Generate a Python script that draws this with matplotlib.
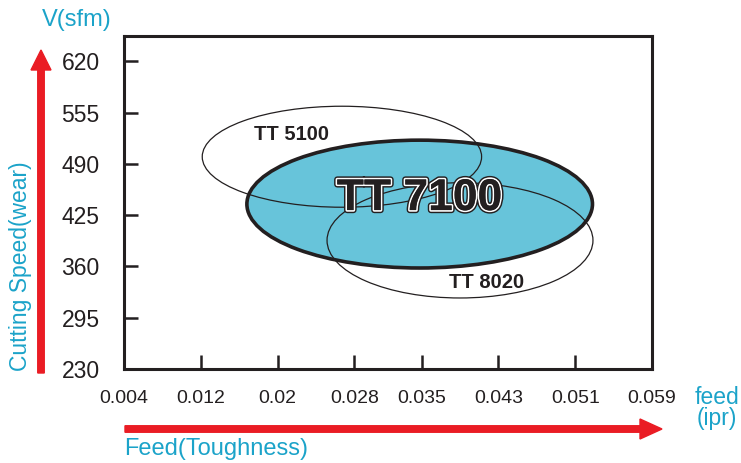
import matplotlib.pyplot as plt
import matplotlib.patheffects as pe
from matplotlib.patches import Ellipse, FancyArrow

# axis ticks
feed_ticks = [0.004, 0.012, 0.02, 0.028, 0.035, 0.043, 0.051, 0.059]
feed_labels = ['0.004', '0.012', '0.02', '0.028', '0.035', '0.043', '0.051', '0.059']
speed_ticks = [230, 295, 360, 425, 490, 555, 620]

# grade application areas (feed centre, speed centre, feed span, speed span)
grades = ['TT 5100', 'TT 7100', 'TT 8020']
feed_center = [0.0267, 0.0348, 0.0390]
speed_center = [499, 439, 393]
feed_span = [0.0291, 0.0360, 0.0277]
speed_span = [128, 162, 146]

CYAN_TXT = '#1ba3c9'
RED = '#ea1c24'
DARK = '#231f20'

plt.rcParams['font.family'] = ['Liberation Sans', 'DejaVu Sans']

fig = plt.figure(figsize=(7.41, 4.63), dpi=100)
ax = fig.add_axes([124 / 741, 94 / 463, 528 / 741, 333 / 463])
ax.set_xlim(0.004, 0.059)
ax.set_ylim(230, 652)

for s in ax.spines.values():
    s.set_linewidth(2.2)
    s.set_color(DARK)

ax.set_xticks(feed_ticks)
ax.set_xticklabels(feed_labels)
ax.set_yticks(speed_ticks)
ax.tick_params(direction='in', length=10, width=1.8, color=DARK, labelcolor=DARK)
ax.tick_params(axis='x', pad=15, labelsize=14)
ax.tick_params(axis='y', pad=17.5, labelsize=16.5)
ax.tick_params(top=False, right=False)

# TT 7100 filled area
i = 1
ax.add_patch(Ellipse((feed_center[i], speed_center[i]), feed_span[i], speed_span[i],
                     facecolor='#67c4da', edgecolor=DARK, linewidth=2.6, zorder=2))
for i in (0, 2):
    ax.add_patch(Ellipse((feed_center[i], speed_center[i]), feed_span[i], speed_span[i],
                         facecolor='none', edgecolor=DARK, linewidth=0.9, zorder=3))

ax.text(feed_center[1], speed_center[1] + 7, grades[1], ha='center', va='center',
        fontsize=32, fontweight='bold', color=DARK, zorder=5,
        path_effects=[pe.withStroke(linewidth=4.5, foreground=DARK),
                      pe.withStroke(linewidth=2.4, foreground='white'),
                      pe.Normal()])
ax.text(0.0214, 527, grades[0], ha='center', va='center', fontsize=14.5,
        fontweight='bold', color=DARK, zorder=5)
ax.text(0.0418, 339, grades[2], ha='center', va='center', fontsize=14.5,
        fontweight='bold', color=DARK, zorder=5)

# red direction arrows in figure pixels
W, H = 741, 463
fig.patches.append(FancyArrow(41 / W, (H - 373) / H, 0, (373 - 70) / H, width=6.5 / W,
                              head_width=20 / W, head_length=20 / H,
                              length_includes_head=False, color=RED,
                              transform=fig.transFigure, figure=fig))
fig.patches.append(FancyArrow(125 / W, (H - 429) / H, (640 - 125) / W, 0, width=6.5 / H,
                              head_width=20 / H, head_length=22 / W,
                              length_includes_head=False, color=RED,
                              transform=fig.transFigure, figure=fig))

fig.text(77 / W, (H - 20) / H, 'V(sfm)', color=CYAN_TXT, fontsize=17, ha='center', va='center')
fig.text(21 / W, (H - 266) / H, 'Cutting Speed(wear)', color=CYAN_TXT, fontsize=16.5,
         rotation=90, ha='center', va='center')
fig.text(717 / W, (H - 408) / H, 'feed\n(ipr)', color=CYAN_TXT, fontsize=16.5,
         ha='center', va='center', linespacing=0.9)
fig.text(124 / W, (H - 449) / H, 'Feed(Toughness)', color=CYAN_TXT, fontsize=17,
         ha='left', va='center')

fig.savefig('out.png', dpi=100)
